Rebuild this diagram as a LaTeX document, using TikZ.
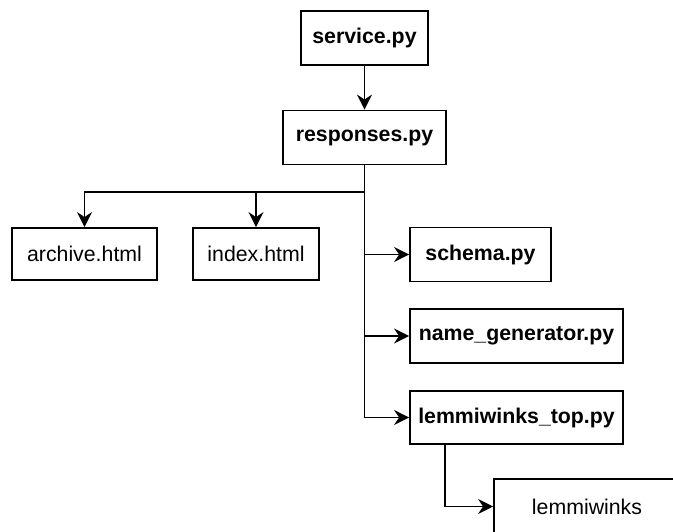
\documentclass[tikz,border=0pt]{standalone}
\usepackage{fontspec}
\setmainfont{Liberation Sans}
\usetikzlibrary{arrows.meta}
\tikzset{
  file box/.style={
    draw,
    line width=1.8pt,
    inner sep=0pt,
    minimum height=54pt,
    font=\fontsize{21.3}{25}\selectfont
  },
  py file/.style={
    file box,
    font=\fontsize{21.3}{25}\selectfont\bfseries
  },
  import/.style={
    line width=1.8pt,
    -{Stealth[length=15pt,width=15pt,inset=5pt]}
  }
}

\begin{document}
\begin{tikzpicture}[x=1pt,y=1pt]
\clip (0,0) rectangle (673,531);
\node (service) at (364.5,493) [py file,minimum width=127pt] {service.py};
\node (responses) at (364.5,393.5) [py file,minimum width=163pt] {responses.py};
\node (archive) at (84.5,277) [file box,minimum width=145pt,minimum height=52pt] {archive.html};
\node (index) at (256,277) [file box,minimum width=126pt,minimum height=52pt] {index.html};
\node (schema) at (480.5,276.5) [py file,minimum width=141pt] {schema.py};
\node (namegen) at (516.5,195) [py file,minimum width=213pt] {name\_generator.py};
\node (lemtop) at (516.5,113.5) [py file,minimum width=213pt,minimum height=53pt] {lemmiwinks\_top.py};
\node (lem) at (587,24.5) [file box,minimum width=186pt,minimum height=55pt] {lemmiwinks};
\coordinate (bus) at (364.5,339);
\coordinate (lemdrop) at ([xshift=36pt]lemtop.south west);

\draw [import] (service) -- (responses);
\draw [import] (responses.south) -- (bus) -| (archive.north);
\draw [import] (bus) -| (index.north);
\draw [import] (responses.south) |- (schema.west);
\draw [import] (responses.south) |- (namegen.west);
\draw [import] (responses.south) |- (lemtop.west);
\draw [import] (lemdrop) |- (lem.west);
\end{tikzpicture}
\end{document}
